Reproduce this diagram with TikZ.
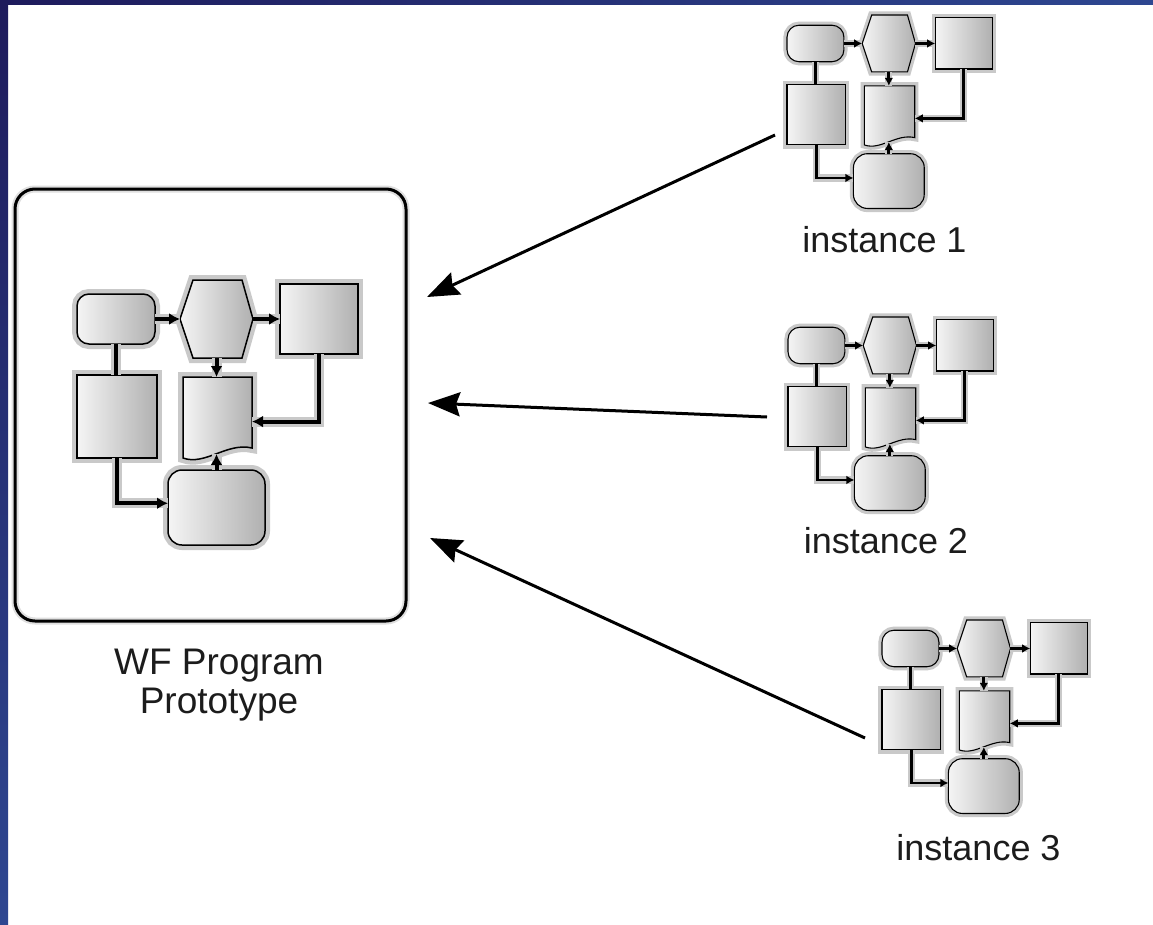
\documentclass[tikz,border=0pt]{standalone}
\usepackage{fontspec}
\setmainfont{Liberation Sans}
\usetikzlibrary{arrows.meta}
\definecolor{navyA}{HTML}{1E1B5C}
\definecolor{navyB}{HTML}{2E4791}
\definecolor{inkc}{HTML}{1C1C1C}
\tikzset{
  shp/.style={draw=black, left color=gray!8, right color=gray!62, inner sep=0pt, outer sep=0pt,
    line width=#1*1.5pt, preaction={draw=gray!42, line width=#1*10pt}},
  anch/.style={rectangle, draw=none, inner sep=0pt, outer sep=0pt},
  lnk/.style={draw=black, line width=#1*4pt, preaction={draw=gray!42, line width=#1*10pt, arrows=-}},
  bigarr/.style={draw=black, line width=3pt, -{Stealth[length=32pt,width=24pt,inset=4pt]}},
  lbl/.style={text=inkc, inner sep=0pt, font=\fontsize{36}{40}\selectfont},
}
\newcommand\minidiag[4]{%
\begin{scope}[shift={(#2,#3)}, scale=#4, transform shape]
  \node[shp=#4, rounded corners=12pt, minimum width=78pt, minimum height=50pt] (#1T) at (39,39) {};
  \path[shp=#4] (103,39) -- (116,0) -- (165,0) -- (176,39) -- (165,78) -- (116,78) -- cycle;
  \node[anch, minimum width=73pt, minimum height=78pt] (#1H) at (139.5,39) {};
  \node[shp=#4, minimum width=78pt, minimum height=70pt] (#1S) at (242,39) {};
  \node[shp=#4, minimum width=80pt, minimum height=83pt] (#1L) at (40,136.5) {};
  \path[shp=#4] (106,97) -- (175,97) -- (175,168) .. controls (150,162) and (128,186) .. (106,178) -- cycle;
  \node[anch, minimum width=69pt, minimum height=77pt] (#1D) at (140.5,135.5) {};
  \node[shp=#4, rounded corners=14pt, minimum width=97pt, minimum height=75pt] (#1B) at (139.5,227.5) {};
  \draw[lnk=#4] (#1T.south) -- (#1T.south |- #1L.north);
  \draw[lnk=#4, -{Latex[length=11pt,width=12pt,scale=#4]}] (#1T.east) -- (#1H.west);
  \draw[lnk=#4, -{Latex[length=11pt,width=12pt,scale=#4]}] (#1H.east) -- (#1S.west);
  \draw[lnk=#4, -{Latex[length=11pt,width=12pt,scale=#4]}] (#1H.south) -- (#1H.south |- #1D.north);
  \draw[lnk=#4, -{Latex[length=11pt,width=12pt,scale=#4]}] (#1S.south) |- (#1D.-10);
  \draw[lnk=#4, -{Latex[length=11pt,width=12pt,scale=#4]}] (#1L.south) |- (#1B.175);
  \draw[lnk=#4, -{Latex[length=11pt,width=12pt,scale=#4]}] (#1B.north) -- (#1B.north |- #1D.south);
\end{scope}}
\begin{document}
\begin{tikzpicture}[x=1pt, y=-1pt]
  \useasboundingbox (0,0) rectangle (1153,924);
  \fill[white] (0,0) rectangle (1153,924);
  \fill[top color=navyA, bottom color=navyB] (0,0) rectangle (8,924);
  \fill[left color=navyA, right color=navyB] (0,0) rectangle (1153,4);

  \node[draw=black, line width=3pt, rounded corners=20pt, minimum width=391pt, minimum height=432pt,
        inner sep=0pt, preaction={draw=gray!25, line width=7pt}] (proto) at (210.5,405) {};
  \node[text=inkc, inner sep=0pt, align=center, font=\fontsize{37}{39}\selectfont] (protolab) at (219,685) {WF Program\\Prototype};

  \minidiag{m}{77}{280}{1}
  \minidiag{a}{787}{15}{0.73}
  \minidiag{b}{788}{317}{0.73}
  \minidiag{c}{882}{620}{0.73}

  \node[lbl, anchor=base] (alab) at (884.5,252) {instance 1};
  \node[lbl, anchor=base] (blab) at (886,553) {instance 2};
  \node[lbl, anchor=base] (clab) at (978.5,860) {instance 3};

  \coordinate (s1) at (775,135); \coordinate (t1) at (427,297);
  \coordinate (s2) at (767,417); \coordinate (t2) at (428,403);
  \coordinate (s3) at (865,738); \coordinate (t3) at (430,538);
  \draw[bigarr] (s1) -- (t1);
  \draw[bigarr] (s2) -- (t2);
  \draw[bigarr] (s3) -- (t3);
\end{tikzpicture}
\end{document}
